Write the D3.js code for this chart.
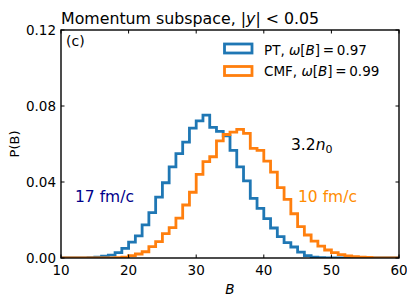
<!DOCTYPE html>
<html><head><meta charset="utf-8">
<script src="https://cdn.jsdelivr.net/npm/d3@7/dist/d3.min.js"></script>
<style>body{margin:0;background:#fff}svg{font-family:"DejaVu Sans",sans-serif}</style>
</head><body><svg id="c" width="407" height="305"></svg>
<script>
// bin left edges (width 1)
const binEdges = [10,11,12,13,14,15,16,17,18,19,20,21,22,23,24,25,26,27,28,29,30,31,32,33,34,35,36,37,38,39,40,41,42,43,44,45,46,47,48,49,50,51,52,53,54,55,56,57,58,59,60];
const ptValues = [0,0,0,0.0001,0.0002,0.0005,0.001,0.0015,0.0028,0.0051,0.0084,0.0116,0.0174,0.0239,0.032,0.0396,0.048,0.0549,0.061,0.0684,0.0722,0.0752,0.0688,0.0666,0.0643,0.0566,0.048,0.0406,0.0314,0.0261,0.0207,0.0158,0.0112,0.0081,0.0058,0.0031,0.0012,0.0005,0.0002,0.0001,0,0,0,0,0,0,0,0,0,0];
const cmfValues = [0,0,0,0,0,0,0,0.0001,0.0002,0.0005,0.0012,0.0021,0.0033,0.006,0.0086,0.0128,0.016,0.021,0.0279,0.0346,0.044,0.0507,0.0533,0.0616,0.065,0.0663,0.0677,0.0656,0.0577,0.0566,0.051,0.0452,0.037,0.0309,0.0233,0.0165,0.0121,0.0089,0.0063,0.0042,0.0028,0.0018,0.0011,0.0007,0.0004,0.0003,0.0001,0.0001,0,0];
const xTicks = [10,20,30,40,50,60];
const yTicks = [0,0.04,0.08,0.12];
const seriesNames = ["PT", "CMF"];
const omegaValues = ["0.97", "0.99"];
const colors = ["#1f77b4", "#ff7f0e"];

const L=61, R=399, T=30, B=258;
const svg = d3.select("#c");
const x = d3.scaleLinear().domain([10,60]).range([L,R]);
const y = d3.scaleLinear().domain([0,0.12]).range([B,T]);

svg.append("defs").append("clipPath").attr("id","pa")
  .append("rect").attr("x",L).attr("y",T).attr("width",R-L).attr("height",B-T);

function stepPts(vals){
  const pts=[[binEdges[0],0]];
  vals.forEach((v,i)=>{pts.push([binEdges[i],v]);pts.push([binEdges[i+1],v]);});
  pts.push([binEdges[binEdges.length-1],0]);
  return pts;
}
const line = d3.line().x(d=>x(d[0])).y(d=>y(d[1]));
const g = svg.append("g").attr("clip-path","url(#pa)");
[ptValues,cmfValues].forEach((vals,i)=>{
  g.append("path").attr("d",line(stepPts(vals))).attr("fill","none")
   .attr("stroke",colors[i]).attr("stroke-width",2.8).attr("stroke-linejoin","miter");
});

// frame
svg.append("rect").attr("x",L).attr("y",T).attr("width",R-L).attr("height",B-T)
  .attr("fill","none").attr("stroke","#000").attr("stroke-width",1.4);

// ticks (inward, all sides)
const tl=3.5;
const tk = svg.append("g").attr("stroke","#000").attr("stroke-width",1);
xTicks.forEach(t=>{
  tk.append("line").attr("x1",x(t)).attr("x2",x(t)).attr("y1",B).attr("y2",B-tl);
  tk.append("line").attr("x1",x(t)).attr("x2",x(t)).attr("y1",T).attr("y2",T+tl);
});
yTicks.forEach(t=>{
  tk.append("line").attr("x1",L).attr("x2",L+tl).attr("y1",y(t)).attr("y2",y(t));
  tk.append("line").attr("x1",R).attr("x2",R-tl).attr("y1",y(t)).attr("y2",y(t));
});
xTicks.forEach(t=>{
  svg.append("text").attr("x",x(t)).attr("y",275).attr("text-anchor","middle")
   .attr("font-size",13.5).text(t);
});
yTicks.forEach(t=>{
  svg.append("text").attr("x",56).attr("y",y(t)+5).attr("text-anchor","end")
   .attr("font-size",13.5).text(d3.format(".2f")(t));
});

// axis labels
svg.append("text").attr("x",x(35)).attr("y",294).attr("text-anchor","middle")
  .attr("font-size",13.5).attr("font-style","italic").text("B");
svg.append("text").attr("transform","translate(19,144) rotate(-90)")
  .attr("text-anchor","middle").attr("font-size",13).text("P(B)");

// title
const tt = svg.append("text").attr("x",61).attr("y",24).attr("font-size",15.8);
tt.append("tspan").text("Momentum subspace, |");
tt.append("tspan").attr("font-style","italic").text("y");
tt.append("tspan").text("| < 0.05");

svg.append("text").attr("x",66).attr("y",46).attr("font-size",14).text("(c)");

// legend
[0,1].forEach(i=>{
  const yy = [44,66.5][i];
  svg.append("rect").attr("x",224.5).attr("y",yy).attr("width",27.5).attr("height",9)
    .attr("fill","none").attr("stroke",colors[i]).attr("stroke-width",2.8);
  const t = svg.append("text").attr("x",264).attr("y",[55,76][i]).attr("font-size",13.5);
  t.append("tspan").text(seriesNames[i]+", ");
  t.append("tspan").attr("font-style","italic").text("ω");
  t.append("tspan").text("[");
  t.append("tspan").attr("font-style","italic").text("B");
  t.append("tspan").text("]\u2009=\u2009"+omegaValues[i]);
});

// annotations
const an = svg.append("text").attr("x",291).attr("y",150).attr("font-size",15.5);
an.append("tspan").text("3.2");
an.append("tspan").attr("font-style","italic").text("n");
an.append("tspan").attr("font-size",11).attr("dy",3).text("0");
svg.append("text").attr("x",75).attr("y",202).attr("font-size",15.5).attr("fill","#00008b").text("17 fm/c");
svg.append("text").attr("x",298).attr("y",202).attr("font-size",15.5).attr("fill","#ff8c00").text("10 fm/c");
</script></body></html>
